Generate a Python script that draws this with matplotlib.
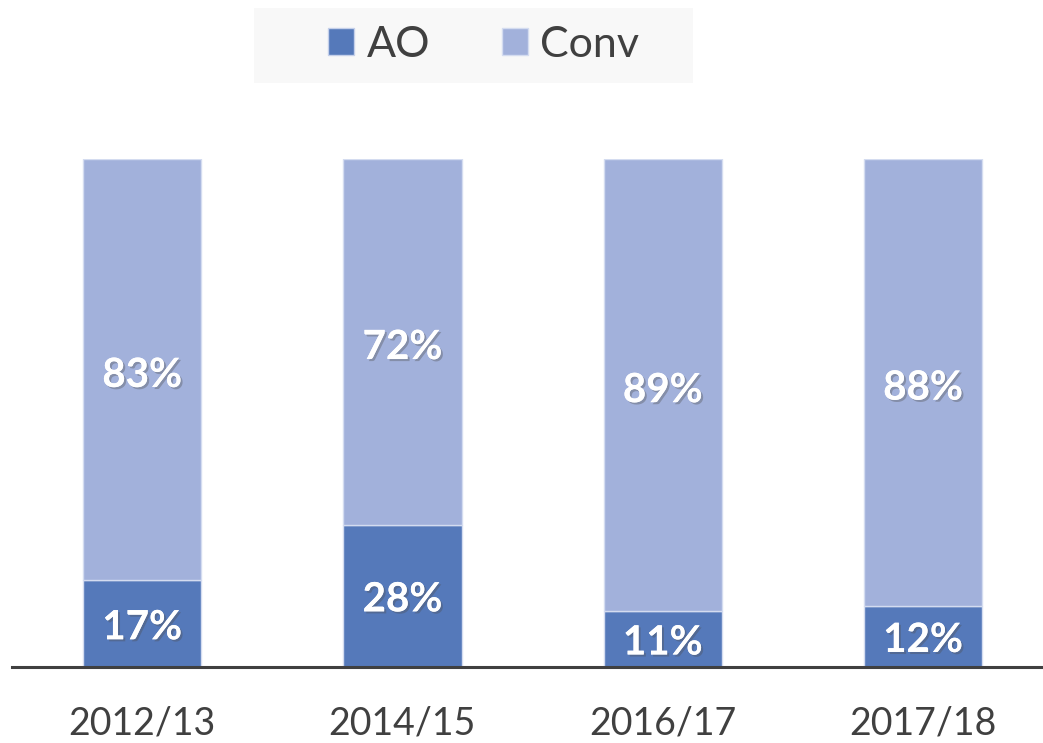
import matplotlib
matplotlib.use('Agg')
import matplotlib.pyplot as plt
import matplotlib.patheffects as pe
from matplotlib.patches import Patch, Rectangle

plt.rcParams['font.family'] = ['Lato', 'DejaVu Sans']

# data
years = ['2012/13', '2014/15', '2016/17', '2017/18']
ao = [17, 28, 11, 12]
conv = [83, 72, 89, 88]

ao_color = '#5579ba'
conv_color = '#a2b1db'
text_color = '#404040'

fig = plt.figure(figsize=(10.43, 7.43), dpi=100)
ax = fig.add_axes([12 / 1043, 76.3 / 743, 1031 / 1043, 507.4 / 743])

x = range(len(years))
ao_frac = [v / 100 for v in ao]
conv_frac = [v / 100 for v in conv]

ax.bar(x, ao_frac, width=0.455, color=ao_color, edgecolor='#d4dcf0', linewidth=1)
ax.bar(x, conv_frac, bottom=ao_frac, width=0.455, color=conv_color, edgecolor='#d4dcf0', linewidth=1)

# white bold labels, a touch below the segment centre like excel
shadow = [pe.withSimplePatchShadow(offset=(1.5, -1.5), alpha=0.35), pe.Normal()]
for i in x:
    ax.annotate(f'{ao[i]}%', (i, ao_frac[i] / 2), xytext=(0, -3), textcoords='offset points',
                ha='center', va='center', color='white', fontsize=29, fontweight='bold',
                path_effects=shadow)
    ax.annotate(f'{conv[i]}%', (i, ao_frac[i] + conv_frac[i] / 2), xytext=(0, -4),
                textcoords='offset points', ha='center', va='center', color='white',
                fontsize=29, fontweight='bold', path_effects=shadow)

ax.set_xlim(-0.5, 3.461)
ax.set_ylim(0, 1)
ax.set_xticks(list(x))
ax.set_xticklabels(years, fontsize=27, color=text_color)
ax.tick_params(axis='x', length=0, pad=28)
ax.set_yticks([])
for s in ['top', 'right', 'left']:
    ax.spines[s].set_visible(False)
ax.spines['bottom'].set_color(text_color)
ax.spines['bottom'].set_linewidth(2.2)

# legend box
fig.patches.append(Rectangle((254 / 1043, 1 - 83 / 743), 439 / 1043, 75 / 743,
                             transform=fig.transFigure, facecolor='#f8f8f8',
                             edgecolor='none', zorder=0))
handles = [Patch(facecolor=ao_color, edgecolor='#c5d0ea', label='AO'),
           Patch(facecolor=conv_color, edgecolor='#d4dcf0', label='Conv')]
leg = fig.legend(handles=handles, loc='center', bbox_to_anchor=(484 / 1043, 1 - 45 / 743),
                 ncol=2, frameon=False, fontsize=31, handlelength=0.6, handleheight=0.6,
                 handletextpad=0.3, columnspacing=1.65, labelcolor=text_color)

fig.savefig('out.png', dpi=100)
